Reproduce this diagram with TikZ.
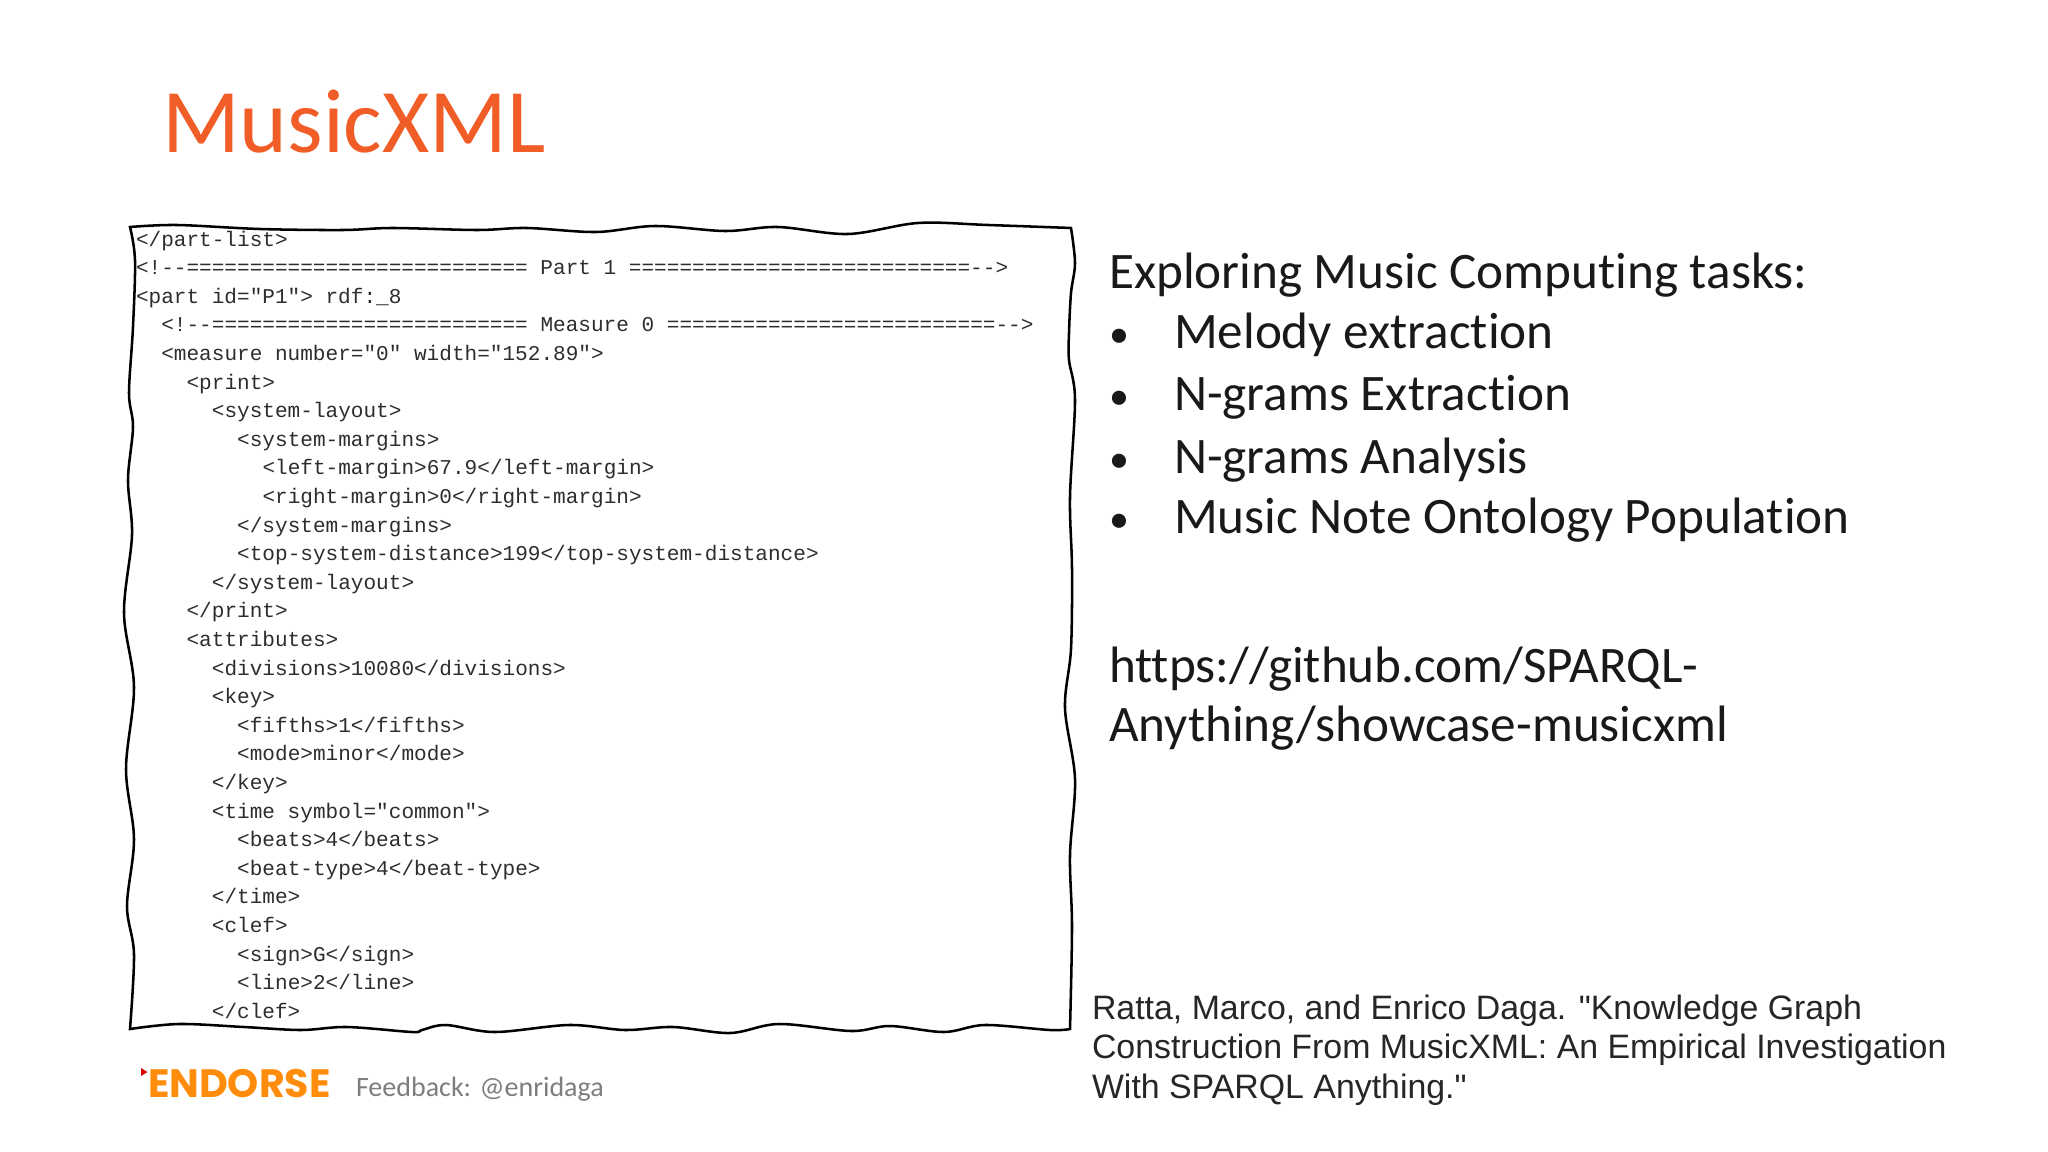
\documentclass[tikz,border=0pt]{standalone}
\usepackage{fontspec}
\setmainfont[Ligatures=NoCommon]{Carlito}
\newfontfamily\codefont{Liberation Mono}
\newfontfamily\citefont{Liberation Sans}
\newfontfamily\logofont{Poppins}
\usepackage{tikz}

\definecolor{titleorange}{RGB}{241,93,38}
\definecolor{logoorange}{RGB}{255,140,10}
\definecolor{codegray}{RGB}{45,45,45}
\definecolor{notegray}{RGB}{125,125,125}

\begin{document}
\begin{tikzpicture}[x=0.75pt,y=-0.75pt,
                every node/.style={inner sep=0pt,outer sep=0pt,anchor=base west},
                codeline/.style={font=\codefont\fontsize{15.8}{18}\selectfont,text=codegray},
                bodyline/.style={font=\fontsize{38.4}{42}\selectfont,text=black!90},
                dotline/.style={font=\fontsize{30}{34}\selectfont,text=black!90},
                citeline/.style={font=\citefont\fontsize{25.4}{29}\selectfont,text=black!85}]
  \useasboundingbox (0,0) rectangle (2048,1152);
  \node[font=\fontsize{68.2}{72}\selectfont,text=titleorange] (title) at (162,153) {MusicXML};
  % code listing
  \foreach \lvl/\txt [count=\i] in {
    0/{</part-list>},
    0/{<!--=========================== Part 1 ===========================-->},
    0/{<part id="P1"> rdf:\_8},
    1/{<!--========================= Measure 0 ==========================-->},
    1/{<measure number="0" width="152.89">},
    2/{<print>},
    3/{<system-layout>},
    4/{<system-margins>},
    5/{<left-margin>67.9</left-margin>},
    5/{<right-margin>0</right-margin>},
    4/{</system-margins>},
    4/{<top-system-distance>199</top-system-distance>},
    3/{</system-layout>},
    2/{</print>},
    2/{<attributes>},
    3/{<divisions>10080</divisions>},
    3/{<key>},
    4/{<fifths>1</fifths>},
    4/{<mode>minor</mode>},
    3/{</key>},
    3/{<time symbol="common">},
    4/{<beats>4</beats>},
    4/{<beat-type>4</beat-type>},
    3/{</time>},
    3/{<clef>},
    4/{<sign>G</sign>},
    4/{<line>2</line>},
    3/{</clef>}}
    \node[codeline] (code\i) at ({136+25.3*\lvl},{246+28.6*(\i-1)}) {\txt};
  % hand drawn frame
  \draw[line width=1.9pt,line join=miter,black]
    plot[smooth,tension=0.55] coordinates {(130,227) (177,225) (260,229) (343,230) (393,228) (477,230) (527,228) (596,232) (655,226) (725,231) (778,227) (848,234) (918,223) (988,225) (1071,228)}
    -- plot[smooth,tension=0.55] coordinates {(1071,228) (1075,263) (1071,293) (1069,333) (1069,360) (1075,400) (1070,497) (1072,569) (1071,649) (1065,708) (1075,779) (1070,855) (1072,927) (1070,1029)}
    -- plot[smooth,tension=0.55] coordinates {(1070,1029) (1050,1030) (985,1025) (944,1032) (890,1026) (851,1031) (779,1024) (730,1033) (673,1027) (625,1030) (569,1025) (495,1032) (446,1025) (422,1030) (412,1032) (347,1027) (301,1030) (244,1027) (179,1024) (130,1029)}
    -- plot[smooth,tension=0.55] coordinates {(130,1029) (134,954) (127,906) (134,839) (126,769) (134,687) (124,613) (132,535) (128,480) (133,427) (129,393) (133,327) (135,260) (130,227)}
    -- cycle;
  % right column
  \node[bodyline] (intro) at (1109,288) {Exploring Music Computing tasks:};
  \foreach \txt/\ypos [count=\i] in {Melody extraction/348,N-grams Extraction/410,N-grams Analysis/473,Music Note Ontology Population/533} {
    \node[dotline] (dot\i) at (1109,\ypos-1) {•};
    \node[bodyline] (task\i) at (1174,\ypos) {\txt};
  }
  \node[bodyline] (url1) at (1109,682) {https://github.com/SPARQL-};
  \node[bodyline] (url2) at (1109,741) {Anything/showcase-musicxml};
  \node[citeline] (cite1) at (1092,1019) {Ratta, Marco, and Enrico Daga. "Knowledge Graph};
  \node[citeline] (cite2) at (1092,1058) {Construction From MusicXML: An Empirical Investigation};
  \node[citeline] (cite3) at (1092,1098) {With SPARQL Anything."};
  % footer
  \fill[red!85!black] (141,1068) -- (147.5,1072) -- (141,1076) -- cycle;
  \node[font=\logofont\bfseries\fontsize{29.7}{32}\selectfont,text=logoorange] (logo) at (148,1097) {ENDORSE};
  \node[font=\fontsize{21}{24}\selectfont,text=notegray] (feedback) at (356,1096) {Feedback: @enridaga};
\end{tikzpicture}
\end{document}
